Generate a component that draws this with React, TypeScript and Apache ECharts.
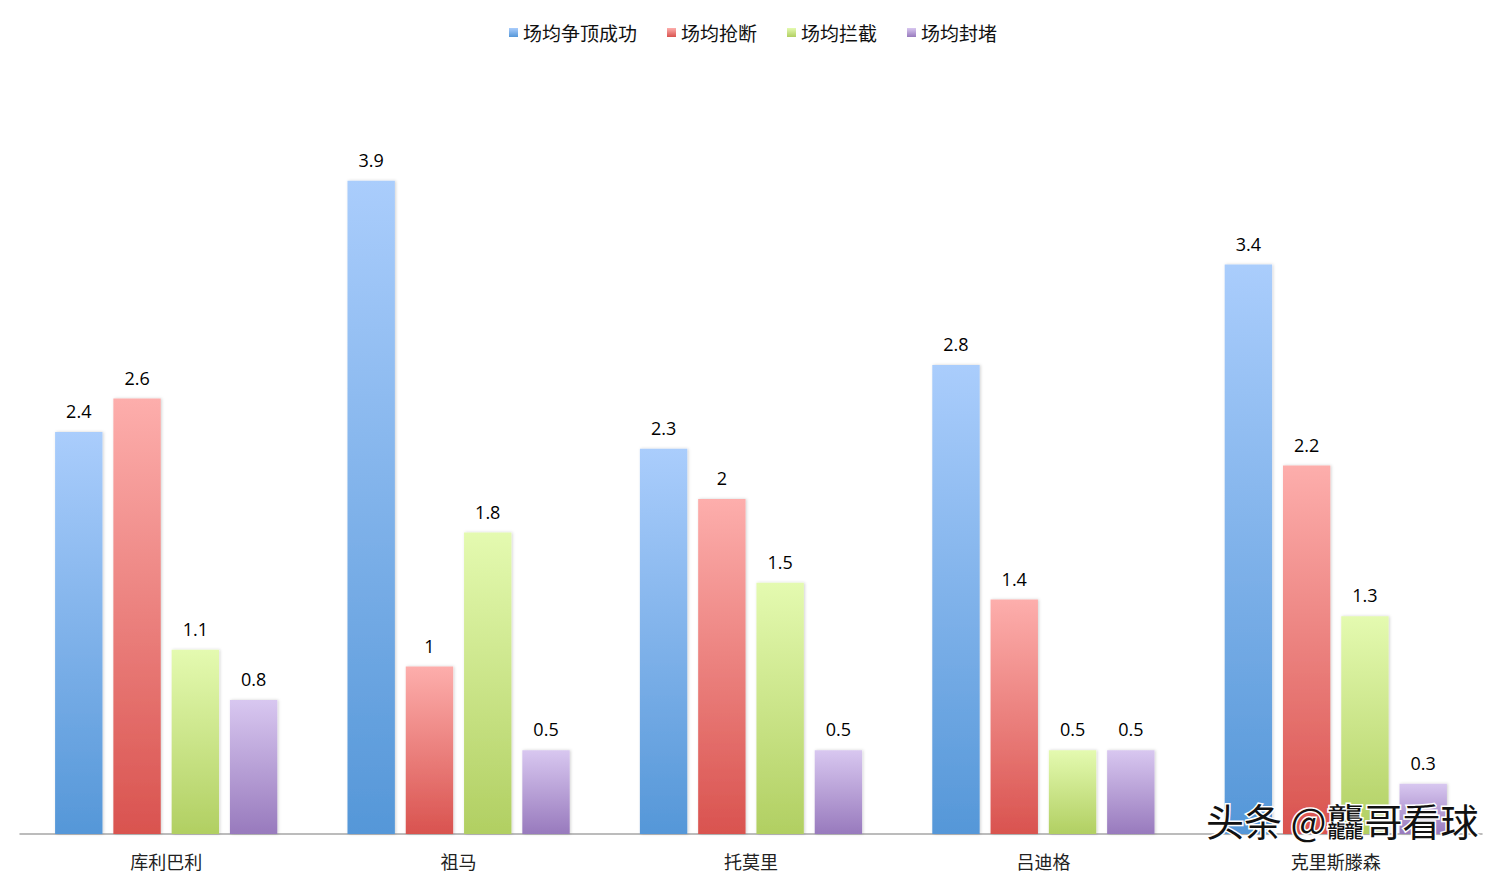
import { useEffect, useRef } from "react"
import * as echarts from "echarts"

const players = ["库利巴利", "祖马", "托莫里", "吕迪格", "克里斯滕森"]
const seriesNames = ["场均争顶成功", "场均抢断", "场均拦截", "场均封堵"]
const aerialWon = [2.4, 3.9, 2.3, 2.8, 3.4]
const tackles = [2.6, 1, 2, 1.4, 2.2]
const interceptions = [1.1, 1.8, 1.5, 0.5, 1.3]
const blocks = [0.8, 0.5, 0.5, 0.5, 0.3]

const palette = [
    ["#aacdfc", "#5597d8"],
    ["#fdaeac", "#d9534f"],
    ["#e4fab0", "#b1cf62"],
    ["#d8c7f0", "#987abd"],
]

export default function App() {
    const chartRef = useRef<HTMLDivElement>(null)

    useEffect(() => {
        if (!chartRef.current) return
        document.body.style.margin = "0"
        const chart = echarts.init(chartRef.current, null, { renderer: "svg" })

        const values = [aerialWon, tackles, interceptions, blocks]
        const cjk = "'Noto Sans CJK SC', sans-serif"

        chart.setOption({
            animation: false,
            backgroundColor: "#ffffff",
            legend: {
                top: 18,
                left: "center",
                itemWidth: 9,
                itemHeight: 9,
                itemGap: 30,
                icon: "rect",
                textStyle: { fontSize: 19, color: "#111", fontFamily: cjk },
                data: seriesNames,
            },
            grid: { left: 20, right: 24, top: 164, bottom: 48 },
            xAxis: {
                type: "category",
                data: players,
                axisLine: { lineStyle: { color: "#a6a6a6", width: 1.5 } },
                axisTick: { show: false },
                axisLabel: {
                    fontSize: 18,
                    lineHeight: 20,
                    color: "#222",
                    margin: 17,
                    fontFamily: cjk,
                },
            },
            yAxis: {
                type: "value",
                min: 0,
                max: 4,
                show: false,
                splitLine: { show: false },
            },
            series: values.map((v, i) => ({
                name: seriesNames[i],
                type: "bar",
                data: v,
                barGap: "23%",
                barCategoryGap: "24%",
                itemStyle: {
                    color: new echarts.graphic.LinearGradient(0, 0, 0, 1, [
                        { offset: 0, color: palette[i][0] },
                        { offset: 1, color: palette[i][1] },
                    ]),
                    shadowColor: "rgba(0,0,0,0.18)",
                    shadowBlur: 3,
                    shadowOffsetX: 1,
                },
                label: {
                    show: true,
                    position: "top",
                    distance: 12,
                    fontSize: 18,
                    fontWeight: 500,
                    color: "#000",
                    fontFamily: "'Open Sans', sans-serif",
                },
            })),
            graphic: [
                {
                    type: "text",
                    right: 26,
                    bottom: 42,
                    z: 100,
                    style: {
                        text: "头条 @龘哥看球",
                        fontSize: 38,
                        lineHeight: 36,
                        fill: "#111",
                        stroke: "#ffffff",
                        lineWidth: 3,
                        fontFamily: cjk,
                    },
                },
            ],
        })

        return () => {
            chart.dispose()
        }
    }, [])

    return <div ref={chartRef} style={{ width: 1506, height: 882 }} />
}
